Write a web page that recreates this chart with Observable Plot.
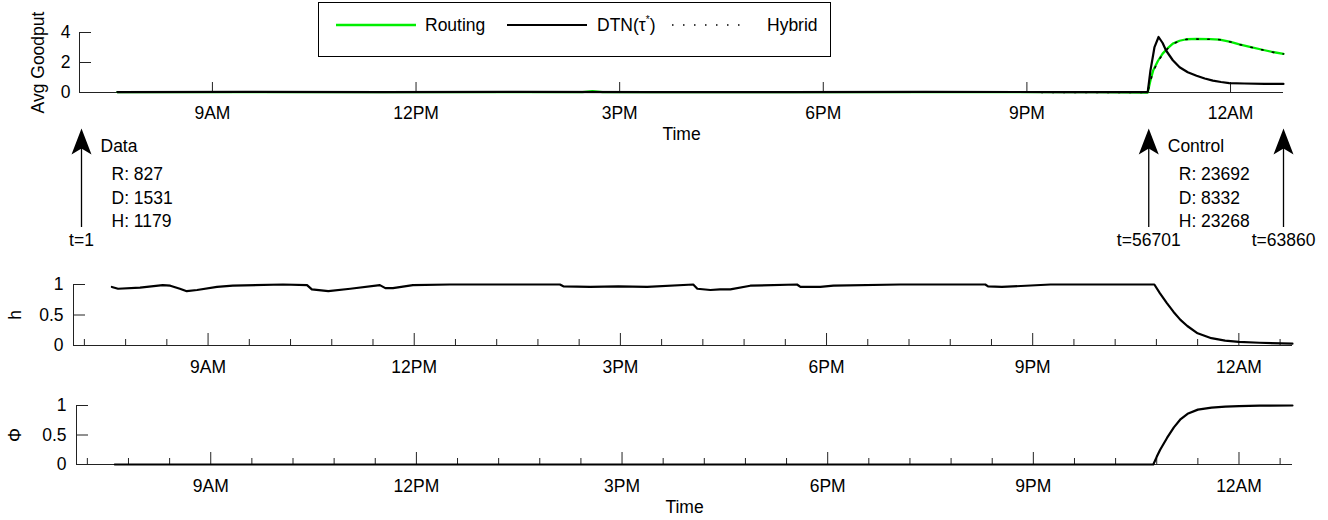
<!DOCTYPE html>
<html><head><meta charset="utf-8">
<script src="https://cdn.jsdelivr.net/npm/d3@7"></script>
<script src="https://cdn.jsdelivr.net/npm/@observablehq/plot@0.6"></script>
<style>
body{margin:0;background:#fff;}
#wrap{position:relative;width:1328px;height:520px;font-family:"Liberation Sans",Arial,sans-serif;}
</style></head><body><div id="wrap"></div>
<script>
// ---------- data ----------
const T_START_HOUR = 7.0417;          // clock hour of t = 0 s
const T_END_SEC = 63860;              // last sample (s)
const T_END_HOUR = T_START_HOUR + T_END_SEC / 3600;

const xTicks = [9, 12, 15, 18, 21, 24];
const xTickLabels = ["9AM", "12PM", "3PM", "6PM", "9PM", "12AM"];
const minorTicks = d3.range(7.2, 24.7, 0.6);
const goodputTicks = [0, 2, 4];
const unitTicks = [0, 0.5, 1];

const seriesNames = ["Routing", "DTN(τ*)", "Hybrid"];
const seriesColors = ["#00ee00", "#000000", "#000000"];

const routingHour = [7.6, 9.0, 10.5, 12.0, 13.5, 14.45, 14.6, 14.75, 16.0, 18.0, 20.0, 22.0, 22.78, 22.82, 22.86, 22.93, 23.0, 23.08, 23.15, 23.25, 23.35, 23.5, 23.7, 23.84, 24.0, 24.13, 24.3, 24.47, 24.62, 24.78];
const routingVal  = [0.02, 0.03, 0.02, 0.03, 0.02, 0.03, 0.09, 0.03, 0.02, 0.03, 0.02, 0.02, 0.0, 0.8, 1.46, 2.1, 2.59, 2.98, 3.26, 3.45, 3.55, 3.57, 3.56, 3.53, 3.38, 3.21, 3.03, 2.85, 2.7, 2.58];

const dtnHour = [7.6, 9.5, 11.5, 13.5, 15.5, 17.5, 19.5, 21.5, 22.78, 22.82, 22.86, 22.88, 22.94, 23.0, 23.05, 23.15, 23.25, 23.37, 23.5, 23.62, 23.74, 23.86, 23.98, 24.2, 24.5, 24.78];
const dtnVal  = [0.03, 0.04, 0.03, 0.04, 0.03, 0.03, 0.04, 0.03, 0.03, 1.46, 2.5, 3.03, 3.7, 3.3, 2.8, 2.15, 1.68, 1.35, 1.12, 0.93, 0.79, 0.7, 0.63, 0.6, 0.58, 0.57];

const hybridHour = [7.6, 10.0, 12.5, 15.0, 17.5, 20.0, 22.78, 22.82, 22.86, 22.93, 23.0, 23.08, 23.15, 23.25, 23.35, 23.5, 23.7, 23.84, 24.0, 24.13, 24.3, 24.47, 24.62, 24.78];
const hybridVal  = [0.02, 0.02, 0.03, 0.02, 0.02, 0.02, 0.0, 0.75, 1.4, 2.05, 2.55, 2.95, 3.24, 3.44, 3.54, 3.56, 3.55, 3.52, 3.37, 3.2, 3.02, 2.84, 2.69, 2.57];

const hHour = [7.60, 7.69, 8.01, 8.34, 8.45, 8.59, 8.69, 8.84, 9.13, 9.36, 10.09, 10.44, 10.51, 10.75, 11.07, 11.50, 11.58, 11.69, 11.98, 12.52, 14.12, 14.17, 14.56, 14.97, 15.39, 16.06, 16.12, 16.31, 16.45, 16.60, 16.89, 17.57, 17.62, 17.91, 18.10, 19.07, 20.31, 20.35, 20.55, 21.26, 22.77, 22.85, 22.95, 23.05, 23.15, 23.25, 23.40, 23.60, 23.80, 24.00, 24.30, 24.78];
const hVal  = [0.96, 0.93, 0.95, 0.99, 0.98, 0.93, 0.89, 0.91, 0.96, 0.98, 1.0, 0.99, 0.92, 0.89, 0.93, 0.99, 0.94, 0.94, 0.99, 1.0, 1.0, 0.97, 0.96, 0.97, 0.96, 1.0, 0.93, 0.91, 0.92, 0.92, 0.98, 1.0, 0.96, 0.96, 0.98, 1.0, 1.0, 0.97, 0.96, 1.0, 1.0, 0.86, 0.70, 0.55, 0.42, 0.32, 0.20, 0.12, 0.08, 0.06, 0.045, 0.03];

const phiHour = [7.6, 22.75, 22.8, 22.85, 22.95, 23.05, 23.15, 23.25, 23.4, 23.6, 23.8, 24.0, 24.3, 24.78];
const phiVal  = [0, 0, 0.13, 0.25, 0.45, 0.63, 0.77, 0.86, 0.93, 0.965, 0.982, 0.99, 0.997, 1.0];

// annotations
const arrowTimes = [1, 56701, 63860];
const arrowLabels = ["t=1", "t=56701", "t=63860"];
const boxTimes = [1, 56701];
const boxTitles = ["Data", "Control"];
const routingCounts = [827, 23692];
const dtnCounts = [1531, 8332];
const hybridCounts = [1179, 23268];

// ---------- helpers ----------
const W = 1328, H = 520;
const AX = "#222";
const FONT = "Liberation Sans, Arial, Helvetica, sans-serif";
const FS = "17.5px";
const wrap = document.getElementById("wrap");
const rows = (xs, ys) => xs.map((x, i) => ({x, y: ys[i]}));
const fmtX = d => xTickLabels[xTicks.indexOf(d)];

function mount(svg) {
  svg.style.position = "absolute";
  svg.style.left = "0px";
  svg.style.top = "0px";
  svg.style.background = "transparent";
  svg.style.overflow = "visible";
  svg.style.maxWidth = "none";
  svg.style.fontFamily = FONT;
  svg.style.fontSize = FS;
  svg.style.color = "#000";
  wrap.appendChild(svg);
}

function frameMarks({left, right, top, bottom, yTicks, minor, majorLen, padX, padY}) {
  const FH = bottom - top, FW = right - left;
  const m = [
    Plot.ruleY([0], {stroke: AX, strokeWidth: 1}),
    Plot.ruleX([T_START_HOUR], {stroke: AX, strokeWidth: 1}),
    Plot.tickX(xTicks, {x: d => d, stroke: AX, strokeWidth: 1, insetTop: FH - majorLen}),
    Plot.tickY(yTicks, {y: d => d, stroke: AX, strokeWidth: 1, insetRight: FW - 12}),
    Plot.axisX({ticks: xTicks, tickFormat: fmtX, tickSize: 0, tickPadding: padX, label: null}),
    Plot.axisY({ticks: yTicks, tickFormat: d => String(d), tickSize: 0, tickPadding: padY, label: null})
  ];
  if (minor) m.push(Plot.tickX(minorTicks.filter(t => !xTicks.some(k => Math.abs(k - t) < 1e-6)), {x: d => d, stroke: AX, strokeWidth: 1, insetTop: FH - 6}));
  return m;
}
const yTitle = (s, dx) => Plot.text([s], {text: d => d, frameAnchor: "left", dx, rotate: -90, textAnchor: "middle", lineAnchor: "middle"});
const xTitle = (s, dy) => Plot.text([s], {text: d => d, frameAnchor: "bottom", dy, textAnchor: "middle", lineAnchor: "middle"});

// ---------- top panel : Avg Goodput ----------
{
  const left = 79, right = 1283, top = 32, bottom = 92;
  mount(Plot.plot({
    width: W, height: H,
    marginLeft: left, marginRight: W - right, marginTop: top, marginBottom: H - bottom,
    x: {domain: [T_START_HOUR, T_END_HOUR]},
    y: {domain: [0, 4]},
    marks: [
      ...frameMarks({left, right, top, bottom, yTicks: goodputTicks, minor: false, majorLen: 10, padX: 14, padY: 9}),
      Plot.line(rows(routingHour, routingVal), {x: "x", y: "y", stroke: seriesColors[0], strokeWidth: 2.3}),
      Plot.line(rows(dtnHour, dtnVal), {x: "x", y: "y", stroke: seriesColors[1], strokeWidth: 2.2}),
      Plot.line(rows(hybridHour, hybridVal), {x: "x", y: "y", stroke: seriesColors[2], strokeWidth: 1.6, strokeDasharray: "1.5,9.5"}),
      yTitle("Avg Goodput", -41),
      xTitle("Time", 42)
    ]
  }));
}

// ---------- annotation strip ----------
{
  const arrowHead = {
    draw(ctx) {
      ctx.moveTo(0, 0);
      ctx.lineTo(10, 26);
      ctx.lineTo(0, 20);
      ctx.lineTo(-10, 26);
      ctx.closePath();
    }
  };
  mount(Plot.plot({
    width: W, height: H,
    marginLeft: 81, marginRight: W - 1283, marginTop: 128, marginBottom: H - 227,
    x: {domain: [1, T_END_SEC], axis: null},
    y: {domain: [0, 1], axis: null},
    marks: [
      Plot.ruleX(arrowTimes, {x: d => d, y1: 0, y2: 0.85, stroke: "#000", strokeWidth: 1.3}),
      Plot.dot(arrowTimes, {x: d => d, y: 1, symbol: arrowHead, fill: "#000", stroke: "none"}),
      Plot.text(arrowTimes, {x: d => d, y: 0, text: (d, i) => arrowLabels[i], dy: 13, lineAnchor: "middle"}),
      Plot.text(boxTimes, {x: d => d, y: 1, text: (d, i) => boxTitles[i], textAnchor: "start", lineAnchor: "middle", dx: 19, dy: 18}),
      Plot.text(boxTimes, {x: d => d, y: 1, textAnchor: "start", dx: 30, dy: 35, lineAnchor: "top", lineHeight: 1.34,
        text: (d, i) => `R: ${routingCounts[i]}\nD: ${dtnCounts[i]}\nH: ${hybridCounts[i]}`})
    ]
  }));
}

// ---------- h panel ----------
{
  const left = 73, right = 1292, top = 284, bottom = 345;
  mount(Plot.plot({
    width: W, height: H,
    marginLeft: left, marginRight: W - right, marginTop: top, marginBottom: H - bottom,
    x: {domain: [T_START_HOUR, T_END_HOUR]},
    y: {domain: [0, 1]},
    marks: [
      ...frameMarks({left, right, top, bottom, yTicks: unitTicks, minor: true, majorLen: 12, padX: 15, padY: 10}),
      Plot.line(rows(hHour, hVal), {x: "x", y: "y", stroke: "#000", strokeWidth: 2.2}),
      yTitle("h", -58)
    ]
  }));
}

// ---------- Φ panel ----------
{
  const left = 76, right = 1292, top = 405, bottom = 464;
  mount(Plot.plot({
    width: W, height: H,
    marginLeft: left, marginRight: W - right, marginTop: top, marginBottom: H - bottom,
    x: {domain: [T_START_HOUR, T_END_HOUR]},
    y: {domain: [0, 1]},
    marks: [
      ...frameMarks({left, right, top, bottom, yTicks: unitTicks, minor: true, majorLen: 12, padX: 15, padY: 10}),
      Plot.line(rows(phiHour, phiVal), {x: "x", y: "y", stroke: "#000", strokeWidth: 2.2}),
      yTitle("Φ", -61),
      xTitle("Time", 43)
    ]
  }));
}

// ---------- legend (box inside top panel) ----------
{
  const legLeft = 318, legTop = 2, legW = 513, legH = 55, cy = 23;
  const sampleX = [[18, 98], [189, 269], [354, 430]];
  const labelX = [107, 279, 449];
  const dash = [null, null, "1.5,9.5"];
  const widths = [2.3, 2.2, 1.6];
  const svg = d3.create("svg").attr("width", legW).attr("height", legH)
    .style("position", "absolute").style("left", legLeft + "px").style("top", legTop + "px")
    .style("font-family", FONT).style("font-size", FS);
  svg.append("rect").attr("x", 0.5).attr("y", 0.5).attr("width", legW - 1).attr("height", legH - 1)
    .attr("fill", "#fff").attr("stroke", "#000").attr("stroke-width", 1);
  seriesNames.forEach((name, i) => {
    svg.append("line").attr("x1", sampleX[i][0]).attr("x2", sampleX[i][1]).attr("y1", cy).attr("y2", cy)
      .attr("stroke", seriesColors[i]).attr("stroke-width", widths[i]).attr("stroke-dasharray", dash[i]);
    const t = svg.append("text").attr("x", labelX[i]).attr("y", cy).attr("dy", "0.35em");
    if (name.includes("*")) {
      const [pre, post] = name.split("*");
      t.append("tspan").text(pre);
      t.append("tspan").attr("dy", -8).attr("font-size", 10).text("*");
      t.append("tspan").attr("dy", 8).text(post);
    } else t.text(name);
  });
  wrap.appendChild(svg.node());
}
</script></body></html>
